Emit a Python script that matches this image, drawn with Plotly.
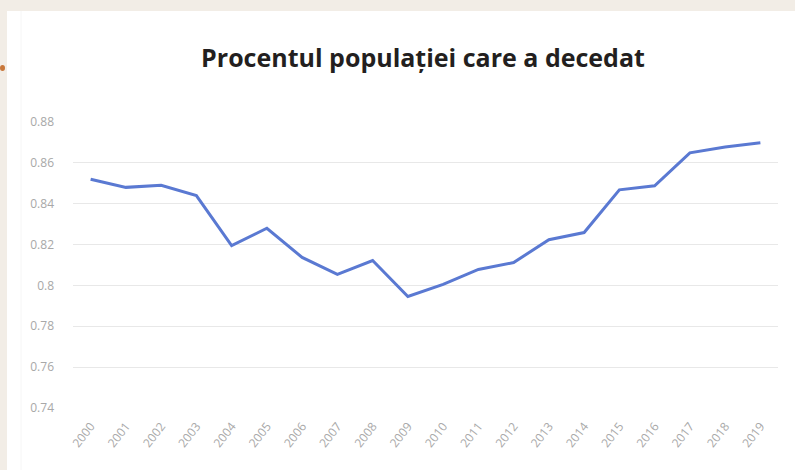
import plotly.graph_objects as go

years = [str(y) for y in range(2000, 2020)]
values = [0.852, 0.848, 0.849, 0.844, 0.8195, 0.828, 0.8137, 0.8054, 0.8122, 0.7946,
          0.8005, 0.8078, 0.8112, 0.8224, 0.8259, 0.8468, 0.8488, 0.8649, 0.8678, 0.8698]
title_text = "Procentul populației care a decedat"

W, H = 795, 470
ml, mr, mt, mb = 73, 17, 122, 62
pw, ph = W - ml - mr, H - mt - mb

def px_x(p):
    return (p - ml) / pw

def px_y(p):
    return (H - mb - p) / ph

fig = go.Figure()
fig.add_trace(go.Scatter(x=years, y=values, mode="lines",
                         line=dict(color="#5a79d2", width=3), hoverinfo="skip"))

shapes = [
    dict(type="rect", xref="paper", yref="paper", x0=px_x(7), x1=px_x(800),
         y0=px_y(11), y1=px_y(475), fillcolor="white", line=dict(width=0), layer="below"),
    dict(type="line", xref="paper", yref="paper", x0=px_x(21), x1=px_x(21),
         y0=px_y(11), y1=px_y(475), line=dict(color="#f6f6f6", width=1), layer="below"),
    dict(type="circle", xref="paper", yref="paper", x0=px_x(0), x1=px_x(5),
         y0=px_y(65), y1=px_y(71), fillcolor="#c8773a", line=dict(width=0), layer="above"),
]

fig.update_layout(
    width=W, height=H,
    margin=dict(l=ml, r=mr, t=mt, b=mb),
    paper_bgcolor="#f2ede6", plot_bgcolor="white",
    shapes=shapes,
    showlegend=False,
    title=dict(text=title_text, x=423 / W, xanchor="center", y=1 - 58 / H, yanchor="middle",
               font=dict(family="Open Sans", size=25, color="#231f20", weight="bold")),
    xaxis=dict(type="category", tickangle=-52, tickfont=dict(size=12, color="#a8a8a8"),
               showgrid=False, showline=False, ticks="", range=[-0.5, len(years) - 0.5],
               ticklabelstandoff=8),
    yaxis=dict(range=[0.74, 0.88], dtick=0.02, tick0=0.74, tickfont=dict(size=12, color="#a8a8a8"),
               gridcolor="#e8e8e8", gridwidth=1, zeroline=False, showline=False,
               ticklabelstandoff=18),
)

fig.write_html("out.html", config={"displayModeBar": False},
               post_script="document.body.style.margin='0';document.body.style.overflow='hidden';")
